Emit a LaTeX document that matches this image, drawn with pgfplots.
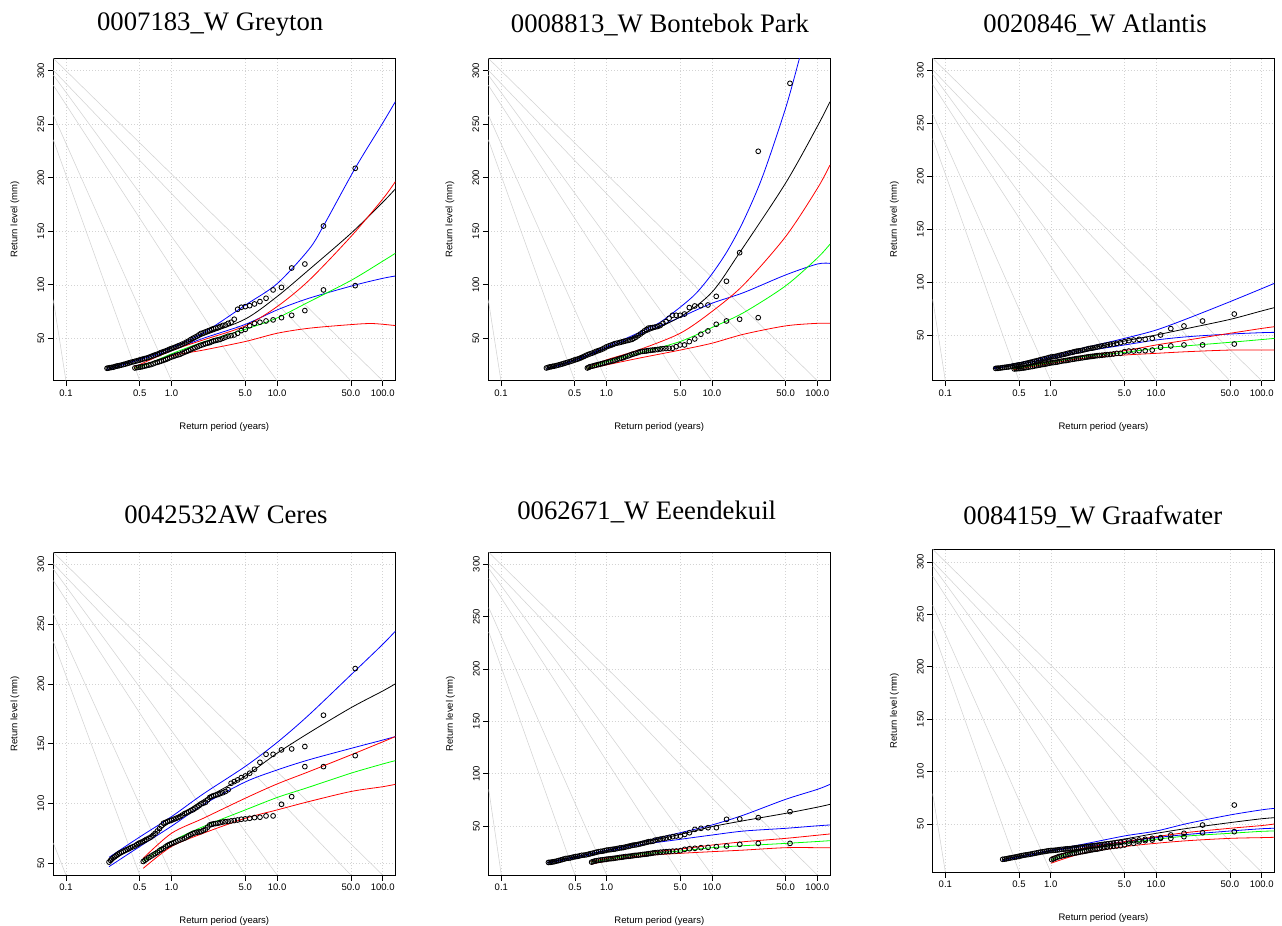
\documentclass[border=0pt]{standalone}
\usepackage{pgfplots}
\pgfplotsset{compat=1.18}
\usepackage{fontspec}
\setmainfont{Liberation Sans}
\newfontfamily\titlefont{Liberation Serif}
\definecolor{rgray}{RGB}{211,211,211}
\definecolor{rgreen}{RGB}{0,255,0}
\definecolor{rblue}{RGB}{0,0,255}
\definecolor{rred}{RGB}{255,0,0}
\pgfplotsset{
  myaxis/.style={
    scale only axis, width=342pt, height=322.4pt,
    xmin=0.0759, xmax=131.8,
    xtick={0.1,0.5,1,5,10,50,100},
    xticklabels={0.1,0.5,1.0,5.0,10.0,50.0,100.0},
    ytick={50,100,150,200,250,300},
    yticklabels={50,100,150,200,250,300},
    xtick pos=bottom, ytick pos=left,
    tick align=outside, major tick length=5.5pt,
    every tick/.style={black, line width=0.6pt},
    axis line style={black, line width=0.9pt},
    xmajorgrids, ymajorgrids,
    major grid style={rgray, line width=0.5pt, dash pattern=on 1pt off 2pt},
    tick label style={font=\fontsize{9.5}{11}\selectfont},
    yticklabel style={rotate=90, anchor=south},
    xlabel={Return period (years)}, ylabel={Return level (mm)},
    every axis label/.append style={font=\fontsize{9.5}{11}\selectfont},
    every axis x label/.style={at={(axis description cs:0.5,-0.143)}, anchor=center},
    every axis y label/.style={at={(axis description cs:-0.112,0.5)}, anchor=center, rotate=90},
  },
  greyln/.style={rgray, line width=0.55pt, no marks},
  circpts/.style={only marks, mark=o, mark size=2.4pt, mark options={black, line width=0.85pt}},
  fitk/.style={black, line width=0.8pt, smooth, no marks},
  fitb/.style={rblue, line width=0.8pt, smooth, no marks},
  fitg/.style={rgreen, line width=0.8pt, smooth, no marks},
  fitr/.style={rred, line width=0.8pt, smooth, no marks},
}
\newcommand\glines[3]{%
  \addplot[greyln] coordinates {(0.0759,#1) (100,#2)};
  \addplot[greyln] coordinates {(0.0759,300.5) (50,#2)};
  \addplot[greyln] coordinates {(0.0759,296) (10,#2)};
  \addplot[greyln] coordinates {(0.0759,286.5) (5,#2)};
  \addplot[greyln] coordinates {(0.0759,258.7) (1,#2)};
  \addplot[greyln] coordinates {(0.0759,235.5) (0.5,#2)};
  \addplot[greyln] coordinates {(0.0759,#3) (0.1,#2)};
}
\begin{document}
\begin{tikzpicture}
\useasboundingbox (0pt,0pt) rectangle (1282pt,926pt);

% ---------------- Panel 1 Greyton
\begin{semilogxaxis}[myaxis, anchor=north west, at={(53.3pt,867.7pt)}, ymin=10.4, ymax=311.6]
\glines{311.6}{10.4}{86}
\addplot[fitb] coordinates {(0.245,22)(0.5,31)(1,41.5)(2,55)(5,81)(10,101)(20,133)(27.5,155)(55,209)(100,251)(131.8,271)};
\addplot[fitb] coordinates {(0.245,20.5)(0.5,30)(1,39)(2,50)(5,63)(10,76.5)(20,87.4)(55,99.8)(100,106)(131.8,108.2)};
\addplot[fitk] coordinates {(0.245,22)(0.5,31)(1,40.7)(2,52.5)(5,68)(10,89)(20,114)(50,148)(100,177)(131.8,189.5)};
\addplot[fitr] coordinates {(0.44,23)(1,38.5)(2,48.5)(5,61.6)(10,79.6)(20,104)(50,145)(100,180)(131.8,196.3)};
\addplot[fitr] coordinates {(0.44,21.5)(1,33.5)(2,39)(5,47)(10,54.7)(20,59.4)(50,62.8)(80,63.8)(131.8,61.9)};
\addplot[fitg] coordinates {(0.44,22)(0.6,26)(1,35.5)(2,46.5)(5,58.4)(10,69)(20,84)(50,104)(100,122)(131.8,129.4)};
\addplot[circpts] coordinates {(55,208.8)(27.5,154.9)(18.33,119.4)(13.75,115.7)(11,97.6)(9.17,95.2)(7.86,87.4)(6.88,84.3)(6.11,82.1)(5.5,80.5)(5,79.6)(4.58,79)(4.23,77.1)(3.93,67.8)(3.67,65)(3.44,64)(3.24,62.5)(3.06,62)(2.89,61)(2.75,60)(2.5,59)(2.3,57.5)(2.1,56)(1.9,54.5)(1.75,52)(1.6,50)(1.45,47.5)(1.33,45.5)(1.2,43.5)(1.1,42)(1.0,40.5)(0.92,39)(0.84,37.5)(0.77,36)(0.7,34.5)(0.64,33)(0.58,31.5)(0.53,30.5)(0.49,29.5)(0.45,28.5)(0.41,27.5)(0.38,26.5)(0.35,25.5)(0.32,24.5)(0.3,24)(0.28,23)(0.26,22.5)(0.245,22)};
\addplot[circpts] coordinates {(2.62,59.5)(2.4,58.2)(2.2,56.8)(2.0,55.2)(1.82,53.2)(1.67,51)(1.52,48.8)(1.39,46.5)(1.26,44.5)(1.15,42.8)(1.05,41.2)(0.96,39.8)(0.88,38.2)(0.8,36.8)(0.735,35.2)(0.67,33.8)(0.61,32.2)(0.555,31)(0.51,30)(0.47,29)(0.43,28)(0.395,27)(0.365,26)(0.335,25)(0.31,24.2)(0.29,23.5)(0.27,22.8)(0.252,22.2)};
\addplot[circpts] coordinates {(55,99.2)(27.5,95.2)(18.33,75.9)(13.75,71.5)(11,69.3)(9.17,67.2)(7.86,66.2)(6.88,65)(6.11,64)(5.5,61.8)(5,58.4)(4.58,57.2)(4.23,54.7)(3.93,53.1)(3.67,52.5)(3.44,52)(3.24,51)(3.06,50)(2.89,49)(2.75,48.5)(2.5,47.5)(2.3,46)(2.1,45)(1.9,43.5)(1.75,42)(1.6,40.5)(1.45,38.5)(1.33,37)(1.2,35)(1.1,34)(1.0,32.5)(0.92,31)(0.84,29.5)(0.77,28.2)(0.7,27)(0.64,25.5)(0.58,24.5)(0.53,23.5)(0.49,23)(0.45,22.3)};
\addplot[circpts] coordinates {(2.62,48)(2.4,46.8)(2.2,45.5)(2.0,44.2)(1.82,42.8)(1.67,41.2)(1.52,39.5)(1.39,37.8)(1.26,36)(1.15,34.5)(1.05,33.2)(0.96,31.8)(0.88,30.2)(0.8,28.8)(0.735,27.6)(0.67,26.2)(0.61,25)(0.555,24)(0.51,23.2)(0.47,22.6)};
\end{semilogxaxis}

% ---------------- Panel 2 Bontebok Park
\begin{semilogxaxis}[myaxis, anchor=north west, at={(488.3pt,867.7pt)}, width=341.7pt, ymin=10.4, ymax=311.6]
\glines{311.6}{10.4}{86}
\addplot[fitb] coordinates {(0.27,22)(0.5,30)(1,42)(2,55)(3.16,64.4)(5,79)(7.08,92)(10,110)(14.1,132)(20,160)(30.2,201)(50,265)(67,310)(72,322)};
\addplot[fitb] coordinates {(0.27,21)(0.5,29.2)(1,40.7)(2,53.1)(5,69.6)(10,82.7)(20,92.7)(50,109.2)(100,119.4)(131.8,120)};
\addplot[fitk] coordinates {(0.27,22)(0.5,30)(1,41)(2,52)(5,70)(10,93)(18.33,130)(50,195)(100,248)(131.8,271)};
\addplot[fitr] coordinates {(0.66,22)(1,29.8)(2,39)(5,54.7)(10,75)(20,100)(50,145)(100,190)(131.8,211.9)};
\addplot[fitr] coordinates {(0.66,21.1)(1,25.1)(2,31.3)(5,39)(10,45.4)(20,53.8)(50,61.6)(100,64)(131.8,64)};
\addplot[fitg] coordinates {(0.66,22)(1,28)(2,36)(5,47)(10,60)(20,74)(50,99)(100,125)(131.8,138)};
\addplot[circpts] coordinates {(55,288.2)(27.5,224.7)(18.33,130)(13.75,103.3)(11,89.2)(9.17,81.1)(7.86,80.5)(6.88,80.2)(6.11,78.7)(5.5,72.7)(5,71.5)(4.58,71.5)(4.23,71.5)(3.93,68.7)(3.67,65.6)(3.44,64)(3.24,62)(3.06,61)(2.89,60.5)(2.75,60)(2.5,59.5)(2.3,57)(2.1,54)(1.9,51)(1.75,49)(1.6,48)(1.45,47)(1.33,46)(1.2,45)(1.1,43.5)(1.0,42)(0.92,40)(0.84,38.5)(0.77,37)(0.7,35.5)(0.64,34)(0.58,32)(0.53,30.5)(0.49,29.5)(0.45,28.2)(0.41,27)(0.38,26)(0.35,25)(0.32,24)(0.3,23.5)(0.28,22.8)(0.27,22.3)};
\addplot[circpts] coordinates {(2.62,59.8)(2.4,58.2)(2.2,55.5)(2.0,52.5)(1.82,50)(1.67,48.5)(1.52,47.5)(1.39,46.5)(1.26,45.5)(1.15,44.2)(1.05,42.8)(0.96,41)(0.88,39.2)(0.8,37.8)(0.735,36.2)(0.67,34.8)(0.61,33)(0.555,31.2)(0.51,30)(0.47,28.8)(0.43,27.6)(0.395,26.5)(0.365,25.5)(0.335,24.5)(0.31,23.8)(0.29,23.2)};
\addplot[circpts] coordinates {(27.5,69.3)(18.33,67.8)(13.75,66.2)(11,63.1)(9.17,56.9)(7.86,53.8)(6.88,49.4)(6.11,46.9)(5.5,43.8)(5,43.8)(4.58,42.2)(4.23,40.7)(3.93,40.7)(3.67,40.5)(3.44,40.3)(3.24,40)(3.06,39.5)(2.89,39.3)(2.75,39)(2.5,38.5)(2.3,38)(2.1,37.5)(1.9,36)(1.75,35)(1.6,33.5)(1.45,32)(1.33,31)(1.2,29.5)(1.1,28.5)(1.0,27.5)(0.92,26.5)(0.84,25.5)(0.77,24.5)(0.7,23.5)(0.66,22.3)};
\addplot[circpts] coordinates {(2.62,38.8)(2.4,38.2)(2.2,37.8)(2.0,36.8)(1.82,35.5)(1.67,34.2)(1.52,32.8)(1.39,31.5)(1.26,30.2)(1.15,29)(1.05,28)(0.96,27)(0.88,26)(0.8,25)(0.735,24)(0.68,22.9)};
\end{semilogxaxis}

% ---------------- Panel 3 Atlantis
\begin{semilogxaxis}[myaxis, anchor=north west, at={(932.7pt,867.7pt)}, width=341.6pt, ymin=7.2, ymax=311.3]
\glines{311.3}{7.2}{84}
\addplot[fitb] coordinates {(0.29,19.5)(1,30)(2,37.7)(5,47.1)(10,55)(20,66)(50,81.7)(100,94)(131.8,99)};
\addplot[fitb] coordinates {(0.29,18.5)(1,28)(2,34.6)(5,40.9)(10,45.6)(20,48.7)(50,51.2)(100,52.5)(131.8,52.8)};
\addplot[fitk] coordinates {(0.29,19)(0.5,22.5)(1,29)(2,36.1)(5,44.6)(10,50.3)(20,56.6)(50,65)(100,73)(131.8,76.1)};
\addplot[fitr] coordinates {(0.44,18.6)(1,25)(2,30.5)(5,35.5)(10,40.9)(20,45.6)(50,51.9)(100,56.5)(131.8,58.1)};
\addplot[fitr] coordinates {(0.44,17.5)(1,23.5)(2,28.3)(5,31.4)(10,33)(20,34.6)(50,36.1)(100,36.1)(131.8,36.1)};
\addplot[fitg] coordinates {(0.44,18.3)(1,24.5)(2,29.8)(5,33.9)(10,37.7)(20,40.2)(50,43.4)(100,46)(131.8,47.1)};
\addplot[circpts] coordinates {(55,70.1)(27.5,63.5)(18.33,58.8)(13.75,56.3)(11,50.3)(9.17,47.1)(7.86,46.2)(6.88,46.2)(6.11,45.6)(5.5,45)(5,44)(4.58,43.1)(4.23,42.4)(3.93,41.8)(3.67,41.5)(3.44,41)(3.24,40.5)(3.06,40)(2.89,39.5)(2.75,39)(2.5,38)(2.3,37.5)(2.1,36.5)(1.9,35.5)(1.75,35)(1.6,34)(1.45,33)(1.33,32)(1.2,31)(1.1,30)(1.0,29.5)(0.92,28.5)(0.84,27.5)(0.77,26.5)(0.7,25.5)(0.64,24.5)(0.58,23.5)(0.53,22.5)(0.49,22)(0.45,21.3)(0.41,20.5)(0.38,20)(0.35,19.5)(0.32,19)(0.3,18.8)};
\addplot[circpts] coordinates {(2.62,38.5)(2.4,37.8)(2.2,37)(2.0,36)(1.82,35.2)(1.67,34.5)(1.52,33.5)(1.39,32.5)(1.26,31.5)(1.15,30.5)(1.05,29.8)(0.96,29)(0.88,28)(0.8,27)(0.735,26)(0.67,25)(0.61,24)(0.555,23)(0.51,22.2)(0.47,21.6)(0.43,20.9)(0.395,20.2)(0.365,19.8)(0.335,19.2)(0.31,18.9)};
\addplot[circpts] coordinates {(55,41.8)(27.5,40.9)(18.33,40.9)(13.75,40)(11,38.7)(9.17,36.1)(7.86,35.5)(6.88,35.5)(6.11,35.2)(5.5,35.2)(5,34.6)(4.58,33)(4.23,33)(3.93,32.4)(3.67,32)(3.44,31.8)(3.24,31.5)(3.06,31.2)(2.89,31)(2.75,30.8)(2.5,30.2)(2.3,29.8)(2.1,29.2)(1.9,28.5)(1.75,28)(1.6,27.3)(1.45,26.5)(1.33,26)(1.2,25.2)(1.1,24.5)(1.0,24)(0.92,23.2)(0.84,22.5)(0.77,21.8)(0.7,21)(0.64,20.3)(0.58,19.5)(0.53,19)(0.49,18.6)(0.45,18.3)};
\addplot[circpts] coordinates {(2.62,30.5)(2.4,30)(2.2,29.5)(2.0,28.8)(1.82,28.2)(1.67,27.6)(1.52,26.9)(1.39,26.2)(1.26,25.6)(1.15,24.8)(1.05,24.2)(0.96,23.6)(0.88,22.8)(0.8,22.1)(0.735,21.4)(0.67,20.6)(0.61,19.9)(0.555,19.2)(0.51,18.8)(0.47,18.4)};
\end{semilogxaxis}

% ---------------- Panel 4 Ceres
\begin{semilogxaxis}[myaxis, anchor=north west, at={(53.3pt,373.7pt)}, height=322.7pt, ymin=40.2, ymax=310]
\glines{310}{40.2}{67}
\addplot[fitb] coordinates {(0.256,55)(0.5,72)(1,89)(2,108)(5,131)(10,151)(20,174)(55,211)(100,233)(131.8,244)};
\addplot[fitb] coordinates {(0.256,47.2)(0.5,64)(1,81)(2,99)(5,118)(10,128)(20,136.5)(55,147)(100,153)(131.8,155.9)};
\addplot[fitk] coordinates {(0.256,50.5)(0.5,67)(1,85)(2,103)(5,123)(10,142)(20,159)(50,180)(100,194)(131.8,200)};
\addplot[fitr] coordinates {(0.54,54.2)(1,75.1)(2,87.6)(5,104.4)(10,116.3)(20,126.6)(50,140.6)(100,151.5)(131.8,155.9)};
\addplot[fitr] coordinates {(0.54,45.8)(1,64)(2,75.1)(5,87.6)(10,94.6)(20,101.6)(50,110)(100,114)(131.8,116)};
\addplot[fitg] coordinates {(0.54,51.4)(1,68.1)(2,80.7)(5,94.6)(10,105)(20,113.6)(50,125.3)(100,133)(131.8,135.8)};
\addplot[circpts] coordinates {(55,212.8)(27.5,173.8)(18.33,147.6)(13.75,145.6)(11,144.8)(9.17,141.1)(7.86,141.1)(6.88,134.4)(6.11,128.6)(5.5,125.3)(5,123)(4.58,121.6)(4.23,119.7)(3.93,118.3)(3.67,116.9)(3.44,111.5)(3.24,110)(3.06,109)(2.89,108.3)(2.75,107.5)(2.5,106.5)(2.3,105)(2.1,101)(1.9,99.5)(1.75,97)(1.6,94.8)(1.45,93)(1.33,91.5)(1.2,89)(1.1,87.5)(1.0,86)(0.92,85)(0.84,83.5)(0.77,79)(0.7,75)(0.64,72)(0.58,70)(0.53,68)(0.49,66.7)(0.45,64.5)(0.41,63)(0.38,61.5)(0.35,60)(0.32,58.4)(0.3,56.5)(0.28,54.5)(0.265,52.5)(0.256,51)};
\addplot[circpts] coordinates {(2.62,107)(2.4,105.8)(2.2,103)(2.0,100.2)(1.82,98.2)(1.67,96)(1.52,94)(1.39,92.2)(1.26,90.2)(1.15,88.2)(1.05,86.8)(0.96,85.5)(0.88,84.2)(0.8,81.2)(0.735,77)(0.67,73.5)(0.61,71)(0.555,69)(0.51,67.3)(0.47,65.6)(0.43,63.8)(0.395,62.2)(0.365,60.8)(0.335,59.2)(0.31,57.5)(0.29,55.5)(0.272,53.5)};
\addplot[circpts] coordinates {(55,140)(27.5,130.8)(18.33,130.8)(13.75,105.7)(11,99.3)(9.17,89.6)(7.86,89.6)(6.88,88.5)(6.11,88.2)(5.5,87.6)(5,87.1)(4.58,86.8)(4.23,86.2)(3.93,85.7)(3.67,85.4)(3.44,85)(3.24,84.8)(3.06,84.5)(2.89,84)(2.75,83.5)(2.5,83)(2.3,82)(2.1,78.5)(1.9,76.5)(1.75,76)(1.6,75)(1.45,73)(1.33,71)(1.2,69.5)(1.1,68)(1.0,66.5)(0.92,65)(0.84,62.5)(0.77,60.5)(0.7,58)(0.64,56)(0.58,53.5)(0.54,51.5)};
\addplot[circpts] coordinates {(2.62,83.2)(2.4,82.5)(2.2,80.2)(2.0,77.5)(1.82,76.2)(1.67,75.5)(1.52,74)(1.39,72)(1.26,70.2)(1.15,68.8)(1.05,67.2)(0.96,65.8)(0.88,63.8)(0.8,61.5)(0.735,59.2)(0.67,57)(0.61,54.8)(0.56,52.5)};
\end{semilogxaxis}

% ---------------- Panel 5 Eeendekuil
\begin{semilogxaxis}[myaxis, anchor=north west, at={(488.7pt,373.7pt)}, width=341.3pt, height=322.7pt, ymin=3.2, ymax=311.5]
\glines{311.5}{3.2}{85}
\addplot[fitb] coordinates {(0.275,15.5)(1,27)(2,34.1)(5,43.6)(10,51)(20,60.5)(50,75.5)(100,85)(131.8,89.8)};
\addplot[fitb] coordinates {(0.275,14.5)(1,25.5)(2,31.8)(5,37.3)(10,41.4)(20,45.2)(50,47.8)(100,50.2)(131.8,51)};
\addplot[fitk] coordinates {(0.275,15)(0.5,20.5)(1,26.5)(2,33.4)(5,42)(10,49.4)(20,55.1)(50,62.1)(100,68)(131.8,70.7)};
\addplot[fitr] coordinates {(0.71,16)(1,19)(2,23.9)(5,28)(10,31.8)(20,35)(50,38.2)(100,41.2)(131.8,42.4)};
\addplot[fitr] coordinates {(0.71,13.5)(1,16.5)(2,21.3)(5,23.9)(10,25.5)(20,27)(50,29.3)(100,29.3)(131.8,29.3)};
\addplot[fitg] coordinates {(0.71,15.5)(1,18)(2,22.9)(5,26.1)(10,29.3)(20,31.2)(50,33.4)(100,35.2)(131.8,36)};
\addplot[circpts] coordinates {(55,63.7)(27.5,58)(18.33,56.7)(13.75,56.4)(11,48.4)(9.17,48.4)(7.86,47.8)(6.88,46.8)(6.11,43.6)(5.5,42)(5,40.4)(4.58,40.4)(4.23,39.8)(3.93,39.2)(3.67,38.5)(3.44,38)(3.24,37.5)(3.06,37)(2.89,36.5)(2.75,35.5)(2.5,35)(2.3,34)(2.1,33)(1.9,32)(1.75,31.5)(1.6,30.5)(1.45,29.5)(1.33,29)(1.2,28)(1.1,27.5)(1.0,27)(0.92,26)(0.84,25.5)(0.77,24.5)(0.7,23.5)(0.64,22.5)(0.58,22)(0.53,21)(0.49,20.5)(0.45,19.5)(0.41,19)(0.38,18)(0.35,17)(0.32,16)(0.3,15.5)(0.28,15.2)};
\addplot[circpts] coordinates {(2.62,35.2)(2.4,34.5)(2.2,33.5)(2.0,32.5)(1.82,31.8)(1.67,31)(1.52,30)(1.39,29.2)(1.26,28.5)(1.15,27.8)(1.05,27.2)(0.96,26.5)(0.88,25.8)(0.8,25)(0.735,24)(0.67,23)(0.61,22.2)(0.555,21.5)(0.51,20.8)(0.47,20)(0.43,19.2)(0.395,18.5)(0.365,17.5)(0.335,16.5)(0.31,15.8)(0.29,15.3)};
\addplot[circpts] coordinates {(55,33.4)(27.5,33.4)(18.33,32.5)(13.75,30.9)(11,30.3)(9.17,29.6)(7.86,29.3)(6.88,28.7)(6.11,28.3)(5.5,27.7)(5,26.4)(4.58,26.1)(4.23,26)(3.93,25.7)(3.67,25.5)(3.44,25.2)(3.24,25)(3.06,24.7)(2.89,24.5)(2.75,24.2)(2.5,23.5)(2.3,23)(2.1,22.5)(1.9,22)(1.75,21.5)(1.6,21)(1.45,20.5)(1.33,20)(1.2,19.3)(1.1,18.8)(1.0,18.3)(0.92,17.8)(0.84,17.2)(0.77,16.5)(0.72,15.5)};
\addplot[circpts] coordinates {(2.62,23.8)(2.4,23.2)(2.2,22.8)(2.0,22.2)(1.82,21.8)(1.67,21.2)(1.52,20.8)(1.39,20.2)(1.26,19.6)(1.15,19)(1.05,18.6)(0.96,18)(0.88,17.5)(0.8,16.8)(0.745,16)};
\end{semilogxaxis}

% ---------------- Panel 6 Graafwater
\begin{semilogxaxis}[myaxis, anchor=north west, at={(932.7pt,376.7pt)}, width=341.6pt, height=322.7pt, ymin=4.2, ymax=312.1]
\glines{312.1}{4.2}{79}
\addplot[fitb] coordinates {(0.35,16)(1,25)(2,30.6)(5,38.6)(10,43.3)(20,50.6)(50,58.6)(100,63.5)(131.8,64.9)};
\addplot[fitb] coordinates {(0.35,15)(1,24)(2,28.4)(5,33.1)(10,37)(20,40.1)(50,43.3)(100,45.5)(131.8,45.9)};
\addplot[fitk] coordinates {(0.35,16)(0.5,19.5)(1,24.5)(2,29.3)(5,35.7)(10,41.1)(20,45.9)(50,51.3)(100,55)(131.8,56)};
\addplot[fitr] coordinates {(1,18.2)(2,26.8)(5,33.1)(10,37.9)(20,42)(50,45.9)(100,48.5)(131.8,50)};
\addplot[fitr] coordinates {(1,12.5)(2,22)(5,28.4)(10,31.6)(20,34.1)(50,36.3)(100,37)(131.8,37.3)};
\addplot[fitg] coordinates {(1,15.7)(1.3,20)(2,25.2)(5,31.6)(10,35.4)(20,38.6)(50,41.1)(100,43)(131.8,43.3)};
\addplot[circpts] coordinates {(55,68.1)(27.5,49)(18.33,41.1)(13.75,39.5)(11,37)(9.17,36.3)(7.86,35.4)(6.88,34.7)(6.11,34.1)(5.5,33.8)(5,33.1)(4.58,32.5)(4.23,32.2)(3.93,31.6)(3.67,31.3)(3.44,31)(3.24,30.7)(3.06,30.4)(2.89,30)(2.75,29.7)(2.5,29.2)(2.3,28.8)(2.1,28.3)(1.9,27.8)(1.75,27.3)(1.6,26.8)(1.45,26.3)(1.33,26)(1.2,25.5)(1.1,25)(1.0,24.7)(0.92,24.2)(0.84,23.5)(0.77,22.8)(0.7,22)(0.64,21.2)(0.58,20.5)(0.53,19.8)(0.49,19)(0.45,18.3)(0.41,17.5)(0.38,16.8)(0.35,16.3)};
\addplot[circpts] coordinates {(2.62,29.5)(2.4,29)(2.2,28.5)(2.0,28)(1.82,27.5)(1.67,27)(1.52,26.5)(1.39,26.2)(1.26,25.8)(1.15,25.2)(1.05,24.8)(0.96,24.5)(0.88,23.8)(0.8,23.2)(0.735,22.4)(0.67,21.6)(0.61,20.8)(0.555,20.2)(0.51,19.4)(0.47,18.6)(0.43,17.9)(0.395,17.2)(0.365,16.5)};
\addplot[circpts] coordinates {(55,42.7)(27.5,41.7)(18.33,37.9)(13.75,36.3)(11,36.3)(9.17,34.7)(7.86,34.1)(6.88,33.1)(6.11,31.6)(5.5,31.6)(5,30)(4.58,29.3)(4.23,29)(3.93,28.7)(3.67,28.3)(3.44,28)(3.24,27.5)(3.06,27)(2.89,26.5)(2.75,26)(2.5,25.5)(2.3,24.8)(2.1,24)(1.9,23.3)(1.75,22.5)(1.6,21.8)(1.45,21)(1.33,20)(1.2,19)(1.1,17.5)(1.02,16)};
\addplot[circpts] coordinates {(2.62,25.8)(2.4,25.2)(2.2,24.4)(2.0,23.6)(1.82,22.9)(1.67,22.2)(1.52,21.4)(1.39,20.5)(1.26,19.5)(1.15,18.3)(1.06,16.8)};
\end{semilogxaxis}

% ---------------- Titles
\begin{scope}[every node/.style={font=\titlefont\fontsize{26.7}{31}\selectfont, anchor=center}]
\node at (210.2pt,901pt) {0007183\_W Greyton};
\node at (660pt,901pt) {0008813\_W Bontebok Park};
\node at (1095pt,901pt) {0020846\_W Atlantis};
\node at (226pt,411pt) {0042532AW Ceres};
\node at (646.7pt,414.3pt) {0062671\_W Eeendekuil};
\node at (1092.8pt,409.3pt) {0084159\_W Graafwater};
\end{scope}
\end{tikzpicture}
\end{document}
